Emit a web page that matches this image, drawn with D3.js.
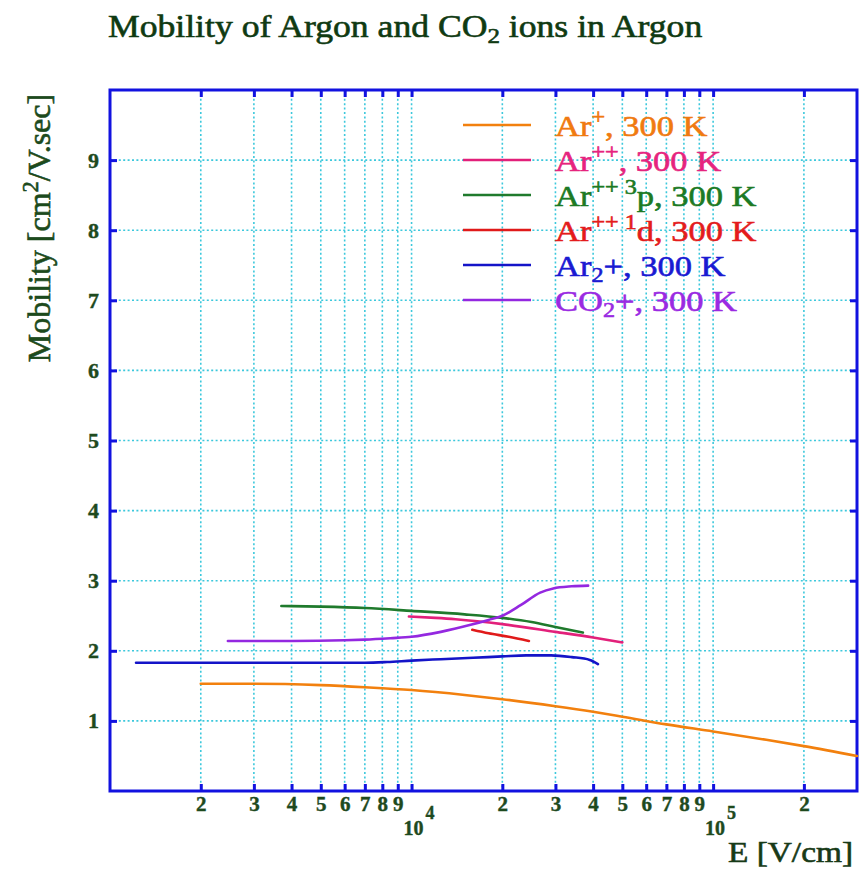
<!DOCTYPE html>
<html>
<head>
<meta charset="utf-8">
<script src="https://cdn.jsdelivr.net/npm/d3@7"></script>
<style>
  html, body { margin: 0; padding: 0; background: #fff; }
  svg { display: block; }
  text { font-family: "Liberation Serif", "DejaVu Serif", serif; }
</style>
</head>
<body>
<svg id="chart" width="867" height="870"></svg>
<script>
// Electric field E [V/cm] and mobility [cm^2/V.sec] for each ion
const arPlusE   = [2000, 3000, 5000, 7000, 1e4, 1.5e4, 2e4, 3e4, 4e4, 5e4, 7e4, 1e5, 1.5e5, 2e5, 3e5];
const arPlusMu  = [1.53, 1.53, 1.51, 1.48, 1.44, 1.37, 1.31, 1.21, 1.13, 1.06, 0.95, 0.85, 0.73, 0.64, 0.50];

const arPPE     = [9800, 1.2e4, 1.4e4, 2e4, 3e4, 4e4, 5e4];
const arPPMu    = [2.49, 2.47, 2.45, 2.38, 2.27, 2.19, 2.12];

const ar3pE     = [3700, 5000, 7000, 1e4, 1.5e4, 2e4, 2.5e4, 3e4, 3.7e4];
const ar3pMu    = [2.64, 2.63, 2.61, 2.57, 2.52, 2.47, 2.41, 2.34, 2.26];

const ar1dE     = [1.59e4, 1.8e4, 2.1e4, 2.45e4];
const ar1dMu    = [2.30, 2.25, 2.20, 2.14];

const ar2E      = [1220, 2000, 3000, 5000, 7000, 8300, 1e4, 1.25e4, 1.6e4, 2e4, 2.4e4, 2.9e4, 3.4e4, 3.9e4, 4.15e4];
const ar2Mu     = [1.83, 1.83, 1.83, 1.83, 1.83, 1.84, 1.86, 1.88, 1.90, 1.92, 1.935, 1.935, 1.91, 1.87, 1.81];

const co2E      = [2460, 4000, 6000, 7000, 8500, 1e4, 1.25e4, 1.57e4, 1.8e4, 2e4, 2.3e4, 2.67e4, 2.95e4, 3.4e4, 3.85e4];
const co2Mu     = [2.14, 2.14, 2.15, 2.16, 2.18, 2.20, 2.27, 2.37, 2.44, 2.50, 2.65, 2.83, 2.89, 2.92, 2.93];

// Tick values
const xTicks = [2000, 3000, 4000, 5000, 6000, 7000, 8000, 9000, 1e4,
                2e4, 3e4, 4e4, 5e4, 6e4, 7e4, 8e4, 9e4, 1e5, 2e5];
const xPowers = [1e4, 1e5];
const yTicks = [1, 2, 3, 4, 5, 6, 7, 8, 9];

// Legend labels: segments of [text, kind] where kind is n (normal), sup, sub
const legendLabels = [
  [["Ar", "n"], ["+", "sup"], [", 300 K", "n"]],
  [["Ar", "n"], ["++", "sup"], [", 300 K", "n"]],
  [["Ar", "n"], ["++ 3", "sup"], ["p, 300 K", "n"]],
  [["Ar", "n"], ["++ 1", "sup"], ["d, 300 K", "n"]],
  [["Ar", "n"], ["2", "sub"], ["+", "n"], [", 300 K", "n"]],
  [["CO", "n"], ["2", "sub"], ["+", "n"], [", 300 K", "n"]]
];

const series = [
  {E: arPlusE, mu: arPlusMu, line: "#f2800e", text: "#f07a10"},
  {E: arPPE,   mu: arPPMu,   line: "#e2207a", text: "#e6247e"},
  {E: ar3pE,   mu: ar3pMu,   line: "#1f7a2c", text: "#1c7a24"},
  {E: ar1dE,   mu: ar1dMu,   line: "#e01a1a", text: "#e41c1c"},
  {E: ar2E,    mu: ar2Mu,    line: "#1414c8", text: "#1a1ad2"},
  {E: co2E,    mu: co2Mu,    line: "#9428e0", text: "#9a2ae2"}
];

const frameColor = "#1212e0";
const gridColor = "#3cc8dc";
const labelColor = "#1e4a1e";
const sx = 1.15; // horizontal stretch of the serif lettering

const svg = d3.select("#chart");
const plot = {left: 110, right: 857, top: 90, bottom: 791};

const x = d3.scaleLog().domain([1e3, 3e5]).range([plot.left, plot.right]);
const y = d3.scaleLinear().domain([0, 10]).range([plot.bottom, plot.top]);

// Dotted grid
const grid = svg.append("g").attr("stroke", gridColor).attr("stroke-width", 1.6)
  .attr("stroke-dasharray", "2,2.4");
grid.selectAll(".gx").data(xTicks).join("line")
  .attr("x1", d => x(d)).attr("x2", d => x(d))
  .attr("y1", plot.top).attr("y2", plot.bottom);
grid.selectAll(".gy").data(yTicks).join("line")
  .attr("y1", d => y(d)).attr("y2", d => y(d))
  .attr("x1", plot.left).attr("x2", plot.right);

// Axes with inward ticks
function styleAxis(g, size) {
  g.attr("font-size", null).attr("font-family", null);
  g.select(".domain").remove();
  g.selectAll(".tick line").attr("stroke", frameColor).attr("stroke-width", 3);
  g.selectAll(".tick text").attr("fill", labelColor)
    .attr("stroke", labelColor).attr("stroke-width", 0.4)
    .style("font-family", "'Liberation Serif', serif")
    .style("font-weight", "bold").style("font-size", (size || 21) + "px");
}
const xFmt = d => xPowers.includes(d) ? "" : String(Math.round(d / Math.pow(10, Math.floor(Math.log10(d) + 1e-9))));

svg.append("g").attr("transform", `translate(0,${plot.bottom})`)
  .call(d3.axisBottom(x).tickValues(xTicks).tickFormat(xFmt).tickSize(-7).tickPadding(5))
  .call(g => styleAxis(g, 21));
svg.append("g").attr("transform", `translate(0,${plot.top})`)
  .call(d3.axisTop(x).tickValues(xTicks).tickFormat("").tickSize(-7))
  .call(g => styleAxis(g));
svg.append("g").attr("transform", `translate(${plot.left},0)`)
  .call(d3.axisLeft(y).tickValues(yTicks).tickSize(-7).tickPadding(11))
  .call(g => styleAxis(g, 22));
svg.append("g").attr("transform", `translate(${plot.right},0)`)
  .call(d3.axisRight(y).tickValues(yTicks).tickFormat("").tickSize(-7))
  .call(g => styleAxis(g));

// Decade labels 10^n below the mantissa row
const pw = svg.append("g").attr("fill", labelColor).attr("stroke", labelColor).attr("stroke-width", 0.4)
  .style("font-size", "20px").style("font-weight", "bold");
xPowers.forEach(p => {
  const t = pw.append("text").attr("x", x(p) - 8).attr("y", 835);
  t.append("tspan").text("10");
  t.append("tspan").attr("dy", -16).attr("dx", 2).style("font-size", "18px")
    .text(String(Math.round(Math.log10(p))));
});

// Plot frame
svg.append("rect")
  .attr("x", plot.left).attr("y", plot.top)
  .attr("width", plot.right - plot.left).attr("height", plot.bottom - plot.top)
  .attr("fill", "none").attr("stroke", frameColor).attr("stroke-width", 3);

// Curves
const line = d3.line().x(d => x(d[0])).y(d => y(d[1])).curve(d3.curveMonotoneX);
const curves = svg.append("g").attr("fill", "none").attr("stroke-width", 2.6)
  .attr("stroke-linecap", "round");
series.forEach(s => {
  curves.append("path")
    .attr("d", line(s.E.map((e, i) => [e, s.mu[i]])))
    .attr("stroke", s.line);
});

// Stretched text helper
function sText(parent, px, py, size, color, anchor, scale) {
  const g = parent.append("g").attr("transform", `translate(${px},${py}) scale(${scale},1)`);
  return g.append("text").attr("x", 0).attr("y", 0).attr("fill", color)
    .attr("stroke", color).attr("stroke-width", 0.6)
    .style("font-size", size + "px").attr("text-anchor", anchor || "start");
}
function addSegments(t, segs, size) {
  segs.forEach(([txt, kind]) => {
    const ts = t.append("tspan").text(txt);
    if (kind === "sup") ts.style("font-size", (size * 0.7) + "px").attr("baseline-shift", "55%");
    else if (kind === "sub") ts.style("font-size", (size * 0.7) + "px").attr("baseline-shift", "-25%");
  });
}

// Legend
const legend = svg.append("g");
const rowY = d3.range(legendLabels.length).map(i => 125 + i * 35);
series.forEach((s, i) => {
  legend.append("line")
    .attr("x1", 463).attr("x2", 531).attr("y1", rowY[i]).attr("y2", rowY[i])
    .attr("stroke", s.line).attr("stroke-width", 2.6);
  const t = sText(legend, 555, rowY[i] + 11, 30, s.text, "start", sx);
  addSegments(t, legendLabels[i], 30);
});

// Title
const title = sText(svg, 108, 37, 31, "#0f3a12", "start", sx);
addSegments(title, [["Mobility of Argon and CO", "n"], ["2", "sub"], [" ions in Argon", "n"]], 31);

// Y axis label
const yl = svg.append("g").attr("transform", "translate(50,228) rotate(-90)")
  .append("text").attr("text-anchor", "middle").attr("fill", "#1c4a1c")
  .attr("stroke", "#1c4a1c").attr("stroke-width", 0.6)
  .style("font-size", "32px");
addSegments(yl, [["Mobility [cm", "n"], ["2", "sup"], ["/V.sec]", "n"]], 32);

// X axis label
sText(svg, 853, 862, 29, "#173a17", "end", sx).text("E [V/cm]");
</script>
</body>
</html>
